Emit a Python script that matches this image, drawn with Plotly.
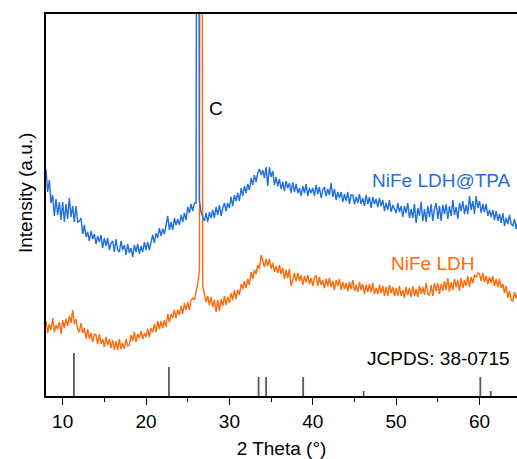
import numpy as np
import plotly.graph_objects as go

# 2-theta grid: 8.0 .. 64.6 step 0.2
theta_start = 8.0
theta_step = 0.2

ldh_tpa = [
    227, 204, 216, 193, 201, 180, 197, 181, 194, 176,
    194, 174, 192, 177, 198, 179, 190, 174, 190, 174,
    175, 178, 162, 171, 159, 164, 155, 165, 157, 162,
    152, 160, 154, 161, 148, 158, 150, 158, 146, 153,
    155, 144, 157, 146, 144, 155, 146, 151, 141, 152,
    143, 148, 139, 151, 144, 152, 142, 150, 144, 154,
    146, 154, 146, 155, 161, 153, 163, 158, 168, 160,
    167, 162, 172, 180, 166, 174, 166, 178, 171, 177,
    171, 181, 174, 183, 176, 189, 183, 192, 185, 193,
    193, 1200, 196, 184, 179,
    175, 183, 174, 184, 178,
    186, 178, 189, 181, 191, 180, 188, 193, 185, 193,
    188, 199, 190, 201, 195, 203, 195, 208, 200, 210,
    203, 212, 206, 218, 211, 221, 214, 223, 227, 221,
    226, 218, 229, 210, 229, 219, 225, 211, 219, 210,
    217, 207, 214, 205, 215, 208, 213, 203, 214, 204,
    212, 203, 208, 200, 210, 203, 212, 200, 208, 203,
    208, 200, 211, 202, 209, 198, 206, 209, 200, 207,
    201, 213, 199, 207, 196, 204, 198, 204, 194, 202,
    195, 204, 192, 201, 201, 192, 199, 193, 202, 192,
    198, 190, 201, 192, 199, 188, 199, 192, 197, 189,
    198, 190, 196, 185, 193, 186, 196, 184, 191, 186,
    183, 193, 184, 190, 179, 190, 183, 193, 178, 187,
    178, 192, 173, 188, 180, 194, 175, 187, 174, 190,
    179, 192, 175, 187, 193, 177, 190, 175, 191, 182,
    192, 177, 190, 180, 196, 181, 189, 177, 193, 185,
    195, 182, 191, 182, 200, 186, 195, 182, 200, 188,
    195, 183, 192, 184, 192, 180, 186, 179, 186, 176,
    185, 175, 182, 173, 183, 170, 178, 172, 181, 172,
    170, 177, 167, 175,
]

ldh = [
    75, 63, 72, 66, 78, 64, 71, 67, 74, 62,
    76, 68, 77, 70, 80, 73, 86, 72, 77, 67,
    64, 73, 63, 68, 57, 67, 57, 63, 54, 62,
    61, 52, 62, 52, 57, 49, 59, 51, 57, 48,
    56, 46, 55, 46, 57, 47, 53, 47, 57, 50,
    51, 61, 55, 64, 54, 62, 58, 65, 57, 63,
    59, 67, 59, 68, 64, 72, 64, 75, 67, 75,
    68, 76, 69, 82, 74, 82, 78, 86, 78, 86,
    81, 90, 82, 93, 86, 94, 86, 96, 98, 96,
    104, 112, 125, 1400, 110,
    101, 94, 100, 91, 99,
    89, 96, 84, 96, 85, 97, 90, 100, 91, 99,
    93, 103, 96, 106, 97, 106, 101, 112, 107, 115,
    108, 117, 111, 124, 117, 126, 122, 131, 127, 141,
    136, 129, 137, 130, 137, 127, 133, 124, 130, 123,
    131, 122, 128, 117, 126, 118, 127, 110, 116, 123,
    115, 123, 115, 121, 111, 120, 114, 121, 112, 118,
    110, 118, 121, 110, 119, 111, 116, 108, 117, 110,
    118, 109, 115, 106, 116, 110, 117, 106, 114, 107,
    113, 105, 114, 107, 116, 105, 111, 104, 114, 106,
    112, 102, 111, 104, 112, 104, 113, 102, 108, 102,
    111, 103, 110, 100, 109, 100, 111, 103, 109, 100,
    108, 100, 110, 100, 106, 98, 109, 101, 108, 99,
    110, 100, 107, 99, 110, 102, 109, 101, 113, 102,
    101, 111, 100, 113, 105, 113, 102, 112, 105, 115,
    106, 118, 104, 114, 106, 117, 109, 116, 105, 118,
    108, 116, 110, 120, 109, 119, 113, 121, 119, 123,
    122, 115, 123, 114, 120, 112, 119, 113, 120, 110,
    117, 109, 117, 108, 112, 103, 110, 98, 105, 96,
    95, 104, 98, 103,
]

# JCPDS 38-0715 reference lines
ref_pos = [11.35, 22.75, 33.5, 34.4, 38.85, 46.1, 60.1, 61.35]
ref_int = [43, 29, 19, 19, 19, 5, 19, 5]

theta = theta_start + theta_step * np.arange(len(ldh_tpa))

BLUE = "#1f6fdc"
ORANGE = "#ff6a0a"
FONT = "Arial, Liberation Sans, sans-serif"

fig = go.Figure()
fig.add_trace(go.Scatter(x=theta, y=ldh, mode="lines",
                         line=dict(color=ORANGE, width=1.4), showlegend=False))
fig.add_trace(go.Scatter(x=theta, y=ldh_tpa, mode="lines",
                         line=dict(color=BLUE, width=1.4), showlegend=False))

sx, sy = [], []
for p, h in zip(ref_pos, ref_int):
    sx += [p, p, None]
    sy += [0, h, None]
fig.add_trace(go.Scatter(x=sx, y=sy, mode="lines",
                         line=dict(color="#5a5a5a", width=1.8), showlegend=False))

ann = [
    dict(x=28.4, y=288, text="C", color="black", xanchor="center"),
    dict(x=64.0, y=216, text="NiFe LDH@TPA", color=BLUE, xanchor="right"),
    dict(x=59.6, y=133, text="NiFe LDH", color=ORANGE, xanchor="right"),
    dict(x=63.9, y=38, text="JCPDS: 38-0715", color="black", xanchor="right"),
]
for a in ann:
    fig.add_annotation(x=a["x"], y=a["y"], text=a["text"], showarrow=False,
                       xanchor=a["xanchor"], yanchor="middle",
                       font=dict(color=a["color"], size=19, family=FONT))

# y-axis title as rotated annotation (slightly above plot centre, as in reference)
fig.add_annotation(xref="paper", yref="y", x=0, y=203, xshift=-21,
                   text="Intensity (a.u.)", textangle=-90, showarrow=False,
                   xanchor="center", yanchor="middle",
                   font=dict(color="black", size=19, family=FONT))

fig.update_layout(
    width=517, height=459,
    margin=dict(l=46, r=0, t=14, b=63),
    plot_bgcolor="white", paper_bgcolor="white",
    font=dict(family=FONT, size=19, color="black"),
    xaxis=dict(range=[8, 64.5], showline=True, mirror=True, linecolor="black",
               linewidth=1.5, ticks="outside", ticklen=7, tickwidth=1.3,
               tickcolor="black", dtick=10, tick0=0, showgrid=False, zeroline=False,
               minor=dict(dtick=5, ticklen=4, tickwidth=1.3, tickcolor="black",
                          ticks="outside", showgrid=False),
               title=dict(text="2 Theta (°)", font=dict(size=19), standoff=12)),
    yaxis=dict(range=[0, 382], showline=True, mirror=False, linecolor="black",
               linewidth=1.5, ticks="", showticklabels=False, showgrid=False,
               zeroline=False),
)

fig.write_html("out.html")
